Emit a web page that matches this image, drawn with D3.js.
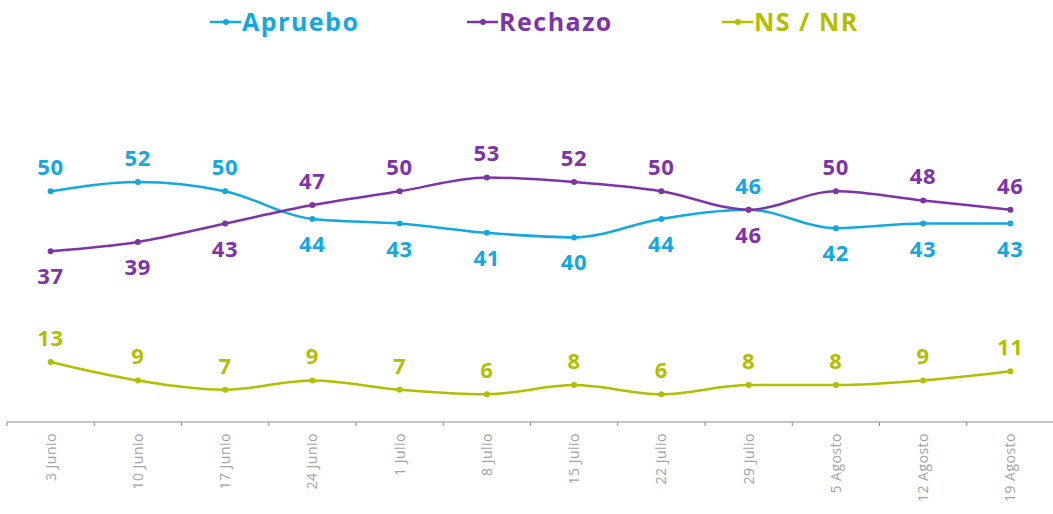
<!DOCTYPE html>
<html>
<head>
<meta charset="utf-8">
<script src="https://cdn.jsdelivr.net/npm/d3@7"></script>
<style>
  body { margin: 0; background: #fff; }
  text { font-family: "Open Sans", "Noto Sans", sans-serif; }
</style>
</head>
<body>
<div id="plot"></div>
<script>
// survey dates
const fechas = ["3 Junio", "10 Junio", "17 Junio", "24 Junio", "1 Julio", "8 Julio",
  "15 Julio", "22 Julio", "29 Julio", "5 Agosto", "12 Agosto", "19 Agosto"];

const apruebo = [50, 52, 50, 44, 43, 41, 40, 44, 46, 42, 43, 43];
const rechazo = [37, 39, 43, 47, 50, 53, 52, 50, 46, 50, 48, 46];
const nsnr = [13, 9, 7, 9, 7, 6, 8, 6, 8, 8, 9, 11];

const seriesNames = ["Apruebo", "Rechazo", "NS / NR"];
const colors = ["#14a8e0", "#7f33a9", "#b4be00"];

const width = 1053, height = 514;

const svg = d3.select("#plot").append("svg")
  .attr("width", width)
  .attr("height", height);

const x = d3.scaleBand()
  .domain(fechas)
  .range([7, 1054]);

const y = d3.scaleLinear()
  .domain([0, 100])
  .range([422, -39.5]);

const cx = d => x(d) + x.bandwidth() / 2;

// x axis line + ticks at band edges
const axisG = svg.append("g");
axisG.append("line")
  .attr("x1", 7).attr("x2", width)
  .attr("y1", y(0)).attr("y2", y(0))
  .attr("stroke", "#8c8c8c").attr("stroke-width", 1);

axisG.selectAll(".tick")
  .data(fechas)
  .enter().append("line")
  .attr("x1", d => x(d)).attr("x2", d => x(d))
  .attr("y1", y(0)).attr("y2", y(0) + 4)
  .attr("stroke", "#8c8c8c");

axisG.selectAll(".lbl")
  .data(fechas)
  .enter().append("text")
  .attr("transform", d => `translate(${cx(d) + 5},${y(0) + 11}) rotate(-90)`)
  .attr("text-anchor", "end")
  .style("font-size", "14px")
  .style("letter-spacing", "0.5px")
  .attr("fill", "#a3a3a3")
  .text(d => d);

const line = d3.line()
  .x((d, i) => cx(fechas[i]))
  .y(d => y(d))
  .curve(d3.curveMonotoneX);

const allSeries = [apruebo, rechazo, nsnr];

allSeries.forEach((vals, s) => {
  svg.append("path")
    .datum(vals)
    .attr("fill", "none")
    .attr("stroke", colors[s])
    .attr("stroke-width", 2.5)
    .attr("d", line);

  svg.selectAll(".dot" + s)
    .data(vals)
    .enter().append("circle")
    .attr("cx", (d, i) => cx(fechas[i]))
    .attr("cy", d => y(d))
    .attr("r", 3)
    .attr("fill", colors[s]);
});

// data labels: above or below the line
function above(s, i) {
  if (s === 2) return true;
  if (i === 8) return s === 0;
  const other = s === 0 ? rechazo[i] : apruebo[i];
  return allSeries[s][i] >= other;
}

allSeries.forEach((vals, s) => {
  svg.selectAll(".val" + s)
    .data(vals)
    .enter().append("text")
    .attr("x", (d, i) => cx(fechas[i]))
    .attr("y", (d, i) => above(s, i) ? y(d) - 16 : y(d) + 33)
    .attr("text-anchor", "middle")
    .style("font-size", "22px")
    .style("font-weight", "bold")
    .style("letter-spacing", "0.8px")
    .attr("fill", colors[s])
    .text(d => d);
});

// legend
const legendX = [210, 467, 722];
const leg = svg.selectAll(".legend")
  .data(seriesNames)
  .enter().append("g")
  .attr("transform", (d, i) => `translate(${legendX[i]},22)`);

leg.append("line")
  .attr("x1", 0).attr("x2", 31)
  .attr("stroke", (d, i) => colors[i])
  .attr("stroke-width", 2.5);

leg.append("circle")
  .attr("cx", 16).attr("r", 3)
  .attr("fill", (d, i) => colors[i]);

leg.append("text")
  .attr("x", 32)
  .attr("dy", "0.35em")
  .style("font-size", "25px")
  .style("font-weight", "bold")
  .style("letter-spacing", "1.5px")
  .attr("fill", (d, i) => colors[i])
  .text(d => d);
</script>
</body>
</html>
